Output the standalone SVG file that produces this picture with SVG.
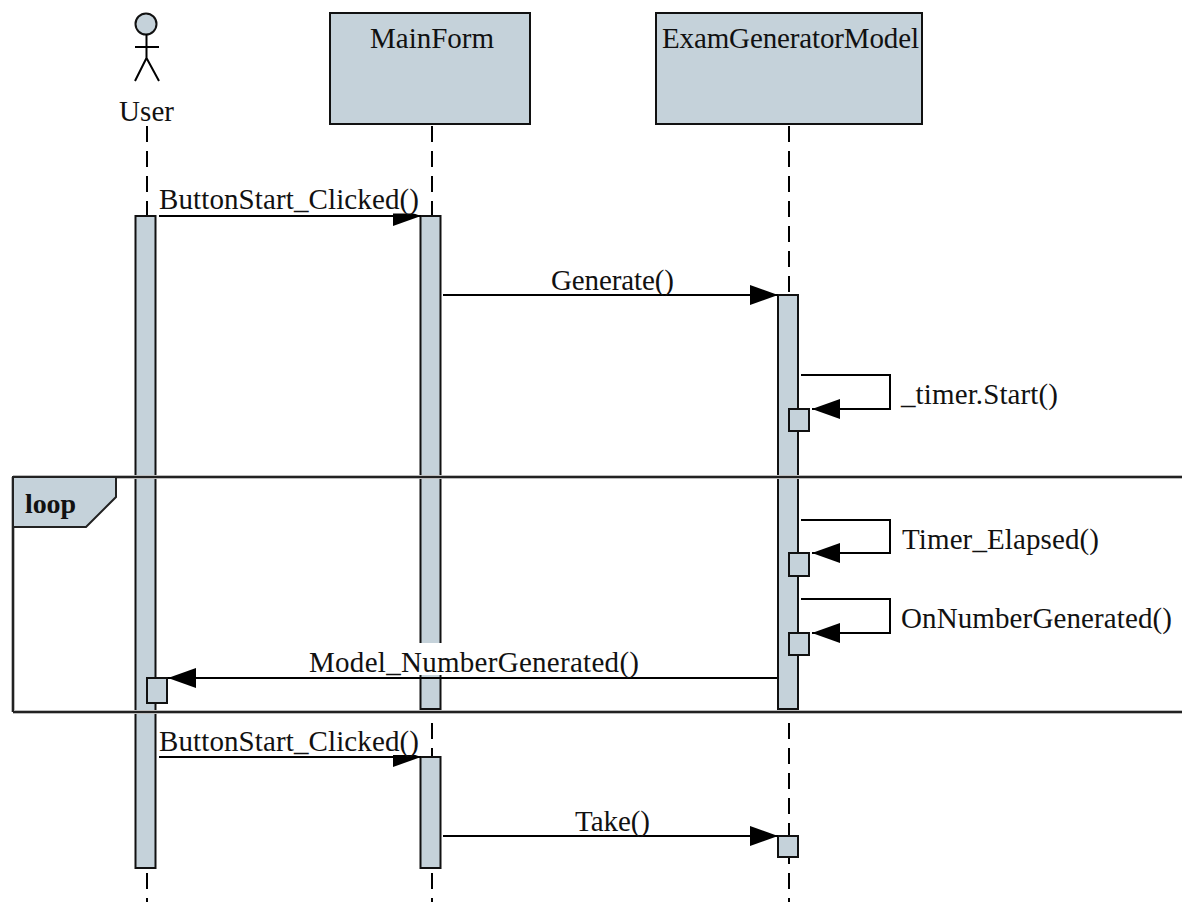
<svg xmlns="http://www.w3.org/2000/svg" width="1182" height="902" viewBox="0 0 1182 902">
<defs>
<style>
text{font-family:"Liberation Serif","Times New Roman",serif;font-size:29px;fill:#111}
.b{fill:#c5d2da;stroke:#111;stroke-width:2}
.l{fill:none;stroke:#000;stroke-width:2}
.d{fill:none;stroke:#000;stroke-width:2;stroke-dasharray:16 9}
.w{fill:#fff}
.h{fill:none;stroke:#bbb;stroke-width:4}
.f{fill:none;stroke:#222;stroke-width:2}
</style>
<marker id="a" markerUnits="userSpaceOnUse" markerWidth="30" markerHeight="22" refX="28" refY="11" orient="auto"><path d="M0 1L28 11L0 21Z" fill="#000"/></marker>
</defs>
<g id="lifelines">
<path class="d" d="M147 126V216M147 873V902"/>
<path class="d" d="M432 126V216M432 698V757M432 873V902"/>
<path class="d" d="M789 126V295M789 698V836M789 848V902"/>
</g>
<g id="user"><circle class="b" cx="146" cy="24" r="10.500"/><path class="l" d="M146.500 34V58M135 47H159M146.500 58L135 81M146.500 58L159 81"/><text x="119" y="121" textLength="55">User</text></g>
<g id="mainform"><rect class="b" x="330" y="13" width="200" height="111"/><text x="370" y="48" textLength="124">MainForm</text></g>
<g id="examgeneratormodel"><rect class="b" x="656" y="13" width="266" height="111"/><text x="662" y="48" textLength="257">ExamGeneratorModel</text></g>
<g id="activations">
<rect class="b" x="135.500" y="216" width="20" height="652"/>
<rect class="b" x="420.500" y="216" width="20" height="493"/>
<rect class="b" x="420.500" y="757" width="20" height="111"/>
<rect class="b" x="778" y="295" width="20" height="414"/>
<rect class="b" x="789" y="409" width="20" height="22"/>
<rect class="b" x="789" y="553" width="20" height="23"/>
<rect class="b" x="789" y="633" width="20" height="22"/>
<rect class="b" x="147" y="678" width="20" height="25"/>
<rect class="b" x="778" y="836" width="20" height="21"/>
</g>
<g id="connectors">
<path class="l" d="M159 216H421" marker-end="url(#a)"/>
<path class="l" d="M443 295H778" marker-end="url(#a)"/>
<path class="l" d="M801 375H890V409H812" marker-end="url(#a)"/>
<path class="l" d="M801 520H890V553H812" marker-end="url(#a)"/>
<path class="l" d="M801 599H890V633H812" marker-end="url(#a)"/>
<path class="l" d="M777 678H168" marker-end="url(#a)"/>
<path class="l" d="M159 757H421" marker-end="url(#a)"/>
<path class="l" d="M443 836H778" marker-end="url(#a)"/>
</g>
<g id="loop">
<path class="h" d="M13 477H1182M13 712H1182M13 477V712"/>
<path class="f" d="M13 477H1182M13 712H1182M13 477V712"/>
<path d="M13 477H116V497L86 527H13Z" fill="#c5d2da" stroke="#222" stroke-width="2"/>
<text x="25" y="513" font-weight="bold" style="font-size:28px" textLength="51">loop</text>
</g>
<g id="labels">
<rect class="w" x="159" y="186" width="262" height="27.500"/>
<text x="159" y="209" textLength="260">ButtonStart_Clicked()</text>
<text x="551" y="290" textLength="123">Generate()</text>
<text x="901" y="404" textLength="157">_timer.Start()</text>
<text x="902" y="549" textLength="197">Timer_Elapsed()</text>
<text x="901" y="628" textLength="271">OnNumberGenerated()</text>
<rect class="w" x="309" y="643" width="330" height="32"/>
<text x="309" y="672" textLength="330">Model_NumberGenerated()</text>
<rect class="w" x="159" y="728" width="262" height="27"/>
<text x="159" y="751" textLength="260">ButtonStart_Clicked()</text>
<text x="575" y="831" textLength="75">Take()</text>
</g>
</svg>
